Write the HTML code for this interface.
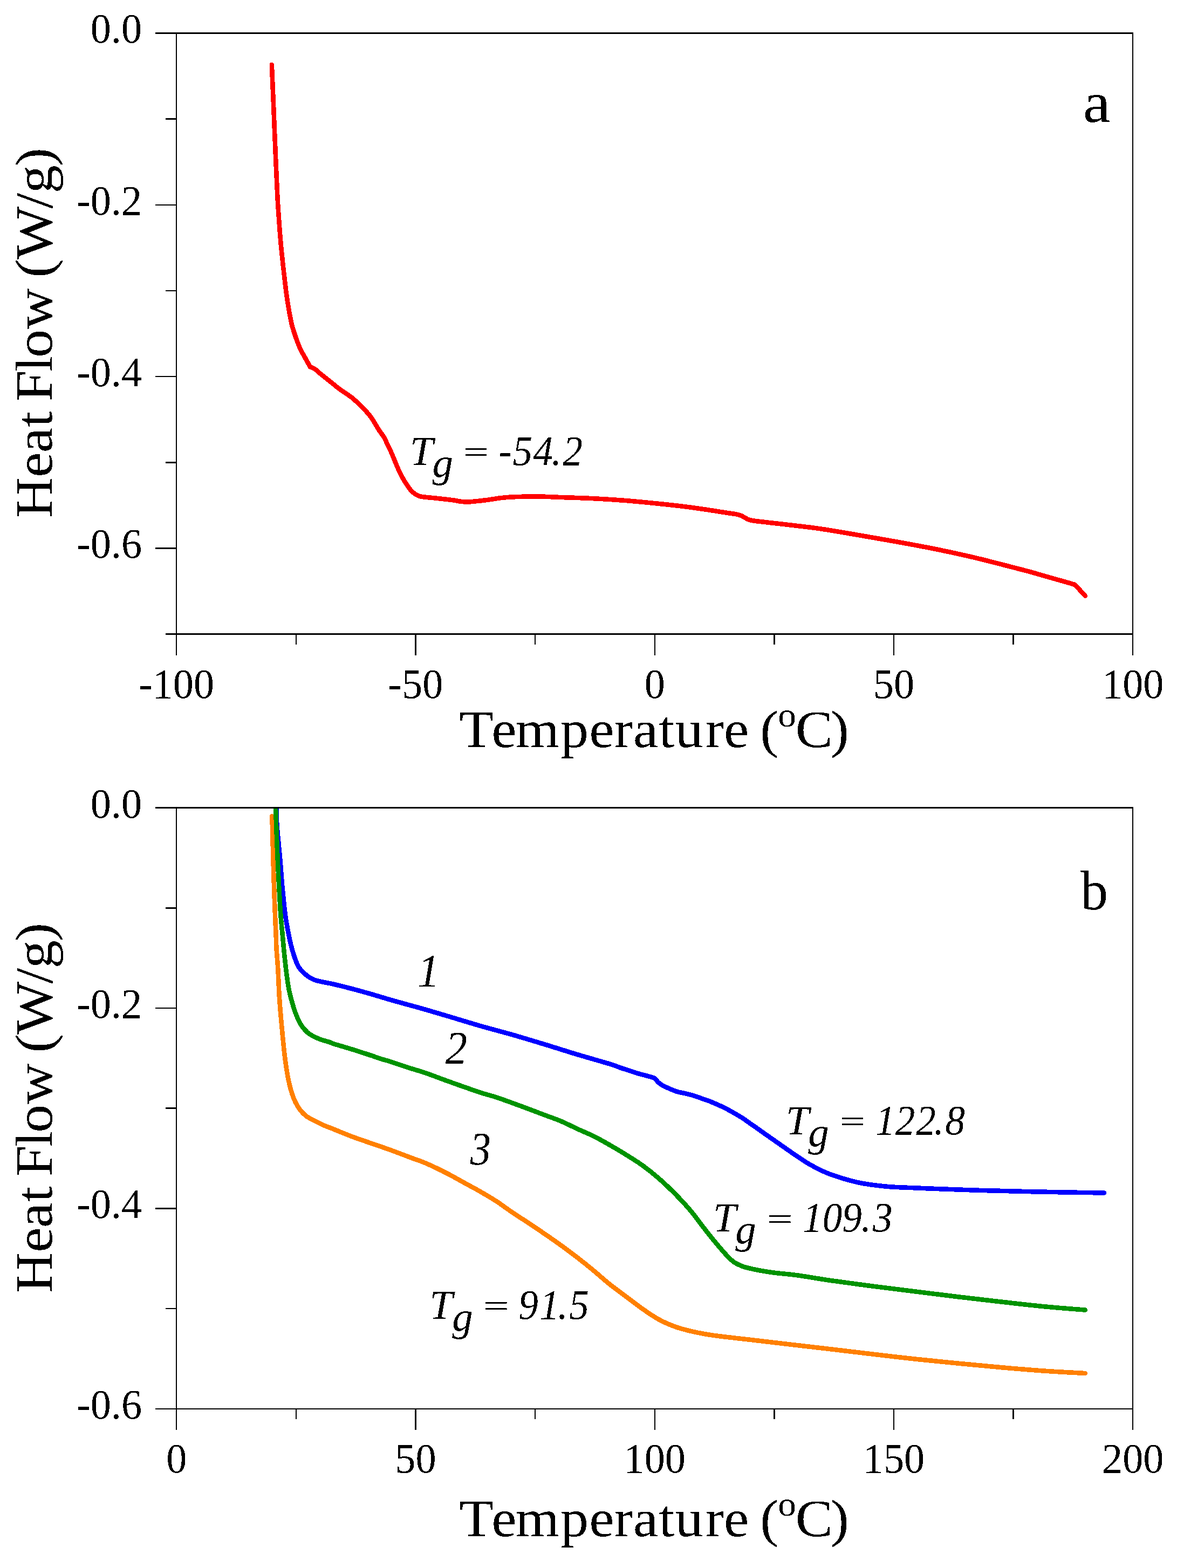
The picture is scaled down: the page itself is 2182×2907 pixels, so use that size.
<!DOCTYPE html>
<html lang="en">
<head>
<meta charset="utf-8">
<title>DSC heat flow curves</title>
<style>
html,body{margin:0;padding:0;background:#fff;}
body{width:2182px;height:2907px;overflow:hidden;}
svg{display:block;}
.ax rect{fill:#000;shape-rendering:crispEdges;}
.cv path{shape-rendering:crispEdges;fill:none;stroke-width:8.6;stroke-linecap:round;stroke-linejoin:round;}
text{fill:#000;font-kerning:none;white-space:pre;}
.tk{font-family:"Liberation Serif",serif;}
.an{font-family:"Liberation Serif",serif;font-style:italic;}
.ti{font-family:"Liberation Serif",serif;}
</style>
</head>
<body>
<svg width="2182" height="2907" viewBox="0 0 2182 2907">
<desc>Two DSC thermograms of heat flow (W/g) versus temperature (°C). Panel a: one curve from -80 to 90 °C with Tg = -54.2. Panel b: curves 1, 2 and 3 from 20 to 195 °C with Tg = 122.8, Tg = 109.3 and Tg = 91.5.</desc>
<defs><filter id="bw" x="0" y="0" width="2182" height="2907" filterUnits="userSpaceOnUse" color-interpolation-filters="sRGB"><feComponentTransfer><feFuncA type="discrete" tableValues="0 1"/></feComponentTransfer></filter>
<clipPath id="ca"><rect x="327.25" y="61.5" width="1773" height="1114.2"/></clipPath>
<clipPath id="cb"><rect x="327.25" y="1497.6" width="1773" height="1114.2"/></clipPath></defs>
<g class="cv" clip-path="url(#ca)"><path stroke="#ff0000" d="M503.8 120C504.2 128.3 505.2 151.7 506.0 170.0C506.8 188.3 507.7 210.0 508.5 230.0C509.3 250.0 510.2 270.8 511.0 290.0C511.8 309.2 512.8 330.0 513.5 345.0C514.2 360.0 514.1 362.1 515.3 380.0C516.5 397.9 518.5 428.2 520.7 452.3C522.9 476.4 526.4 506.6 528.5 524.7C530.6 542.8 531.3 548.2 533.3 560.8C535.3 573.3 538.4 590.5 540.5 600.0C542.6 609.5 544.1 612.5 545.9 618.1C547.7 623.7 549.4 628.7 551.3 633.7C553.2 638.7 555.1 643.6 557.3 648.2C559.5 652.8 562.4 657.4 564.6 661.4C566.8 665.4 568.9 669.2 570.6 672.3C572.3 675.4 574.1 678.8 574.8 680.1C576.3 680.8 581.0 682.4 583.9 684.3C586.8 686.2 588.9 688.8 592.3 691.6C595.7 694.4 600.3 698.0 604.3 701.2C608.3 704.4 612.4 707.6 616.4 710.8C620.4 714.0 624.4 717.5 628.4 720.5C632.4 723.5 636.5 726.1 640.5 728.9C644.5 731.7 648.5 734.1 652.5 737.3C656.5 740.5 660.6 744.4 664.6 748.2C668.6 752.0 672.6 755.8 676.6 760.2C680.6 764.6 685.1 769.7 688.7 774.7C692.3 779.7 695.7 786.2 698.3 790.4C700.9 794.6 702.0 796.5 704.3 800.0C706.6 803.5 710.0 807.1 712.3 811.1C714.6 815.1 716.3 820.1 718.3 824.3C720.3 828.5 722.3 832.0 724.3 836.4C726.3 840.8 728.4 846.0 730.4 850.8C732.4 855.6 734.4 860.7 736.4 865.3C738.4 869.9 740.4 874.6 742.4 878.6C744.4 882.6 746.4 886.0 748.4 889.4C750.4 892.8 752.5 896.0 754.5 899.0C756.5 902.0 758.5 905.1 760.5 907.5C762.5 909.9 764.5 911.8 766.5 913.5C768.5 915.2 770.5 916.6 772.5 917.7C774.5 918.8 776.6 919.5 778.6 920.1C780.6 920.7 779.6 920.7 784.6 921.3C789.6 921.9 799.5 922.7 808.7 923.7C817.9 924.7 832.6 926.3 840.0 927.3C847.4 928.3 847.9 929.1 852.8 929.6C857.7 930.1 861.6 930.8 869.6 930.4C877.6 930.0 891.8 928.3 901.0 927.2C910.2 926.1 917.0 924.6 925.0 923.6C933.0 922.6 937.2 921.9 949.2 921.4C961.2 920.9 982.2 920.4 997.3 920.5C1012.4 920.6 1022.9 921.4 1040.0 922.0C1057.2 922.6 1080.1 923.2 1100.2 924.2C1120.3 925.2 1140.4 926.5 1160.5 928.1C1180.6 929.7 1200.6 931.7 1220.7 933.8C1240.8 935.9 1260.9 938.0 1281.0 940.7C1301.1 943.4 1326.2 947.4 1341.2 949.8C1356.2 952.2 1363.3 952.5 1371.3 954.9C1379.3 957.2 1381.9 961.8 1389.4 963.9C1396.9 966.0 1404.5 966.3 1416.5 967.8C1428.5 969.3 1444.5 970.9 1461.7 973.0C1479.0 975.1 1498.2 977.0 1520.0 980.2C1541.8 983.4 1568.2 988.1 1592.3 992.2C1616.4 996.3 1640.5 1000.4 1664.6 1004.8C1688.7 1009.2 1712.7 1013.6 1736.8 1018.5C1760.9 1023.4 1781.9 1027.9 1809.1 1034.4C1836.3 1040.9 1880.3 1052.5 1900.0 1057.6C1919.7 1062.7 1918.1 1062.7 1927.1 1065.2C1936.1 1067.8 1945.2 1070.3 1954.2 1072.9C1963.2 1075.5 1974.8 1078.7 1981.3 1080.6C1987.8 1082.5 1991.1 1083.6 1993.1 1084.2C1996.2 1087.6 2008.7 1101.3 2011.8 1104.7"/></g>
<g class="cv" clip-path="url(#cb)">
<path stroke="#0000ff" d="M512 1490C512.0 1491.5 511.9 1491.6 512.2 1499.0C512.5 1506.4 512.7 1519.3 513.8 1534.2C514.9 1549.1 517.3 1570.4 518.9 1588.5C520.5 1606.6 521.6 1624.6 523.3 1642.7C525.0 1660.8 526.9 1681.2 529.0 1697.0C531.1 1712.8 534.1 1727.1 536.2 1737.6C538.3 1748.1 539.5 1753.0 541.5 1760.0C543.5 1767.0 545.8 1774.3 547.9 1779.9C550.0 1785.5 551.8 1789.7 554.2 1793.5C556.6 1797.3 559.4 1799.7 562.3 1802.5C565.2 1805.3 567.8 1808.2 571.4 1810.6C575.0 1813.0 579.5 1815.3 584.0 1817.0C588.5 1818.7 593.1 1819.4 598.5 1820.6C603.9 1821.8 607.6 1822.1 616.6 1824.2C625.6 1826.3 640.7 1830.0 652.7 1833.2C664.8 1836.4 676.8 1839.7 688.9 1843.2C701.0 1846.7 713.0 1850.5 725.1 1854.0C737.2 1857.5 750.4 1861.0 761.2 1864.0C772.1 1867.0 778.7 1868.8 790.2 1872.1C801.7 1875.4 813.5 1878.9 830.2 1883.9C846.9 1888.9 870.4 1896.2 890.5 1902.0C910.6 1907.8 930.6 1912.8 950.7 1918.6C970.8 1924.4 990.9 1930.5 1011.0 1936.6C1031.1 1942.7 1051.1 1949.3 1071.2 1955.3C1091.3 1961.3 1118.3 1968.8 1131.4 1972.8C1144.5 1976.8 1144.4 1977.6 1150.0 1979.5C1155.6 1981.4 1160.1 1982.8 1165.1 1984.4C1170.1 1986.1 1175.1 1987.9 1180.1 1989.4C1185.1 1990.9 1190.2 1992.1 1195.2 1993.5C1200.2 1994.9 1206.9 1996.6 1210.2 1997.7C1213.5 1998.8 1213.0 1998.7 1214.8 2000.2C1216.6 2001.8 1218.5 2005.0 1220.8 2007.0C1223.0 2009.0 1225.0 2010.5 1228.3 2012.3C1231.6 2014.1 1235.9 2016.0 1240.4 2018.0C1244.9 2020.0 1250.4 2022.5 1255.4 2024.0C1260.4 2025.5 1265.5 2026.1 1270.5 2027.3C1275.5 2028.5 1280.5 2029.6 1285.5 2031.1C1290.5 2032.6 1295.6 2034.6 1300.6 2036.4C1305.6 2038.2 1310.7 2039.8 1315.7 2041.7C1320.7 2043.7 1325.7 2045.8 1330.7 2048.1C1335.7 2050.3 1340.8 2052.6 1345.8 2055.2C1350.8 2057.8 1355.8 2060.6 1360.8 2063.5C1365.8 2066.4 1370.9 2069.2 1375.9 2072.5C1380.9 2075.8 1387.0 2080.3 1391.0 2083.1C1395.0 2085.9 1396.7 2086.8 1400.0 2089.1C1403.3 2091.4 1404.0 2092.2 1410.8 2097.0C1417.6 2101.8 1431.0 2111.1 1441.0 2118.1C1451.0 2125.1 1461.1 2132.4 1471.1 2139.2C1481.1 2146.0 1491.2 2153.0 1501.2 2158.8C1511.2 2164.6 1521.3 2169.6 1531.3 2173.9C1541.3 2178.2 1551.4 2181.3 1561.4 2184.4C1571.5 2187.5 1581.5 2190.3 1591.6 2192.5C1601.6 2194.7 1611.7 2196.0 1621.7 2197.3C1631.7 2198.6 1638.8 2199.5 1651.8 2200.4C1664.8 2201.3 1685.6 2201.9 1700.0 2202.5C1714.4 2203.1 1718.6 2203.4 1738.3 2204.1C1758.0 2204.8 1791.4 2206.1 1817.9 2206.9C1844.4 2207.7 1870.9 2208.3 1897.4 2208.9C1923.9 2209.5 1952.0 2210.1 1976.9 2210.5C2001.8 2210.9 2035.2 2211.3 2046.8 2211.5"/>
<path stroke="#ff8000" d="M503.9 1513.2C504.1 1516.7 504.6 1521.7 505.0 1534.2C505.4 1546.8 505.8 1570.4 506.3 1588.5C506.8 1606.6 507.4 1624.6 508.0 1642.7C508.6 1660.8 509.4 1681.2 510.0 1697.0C510.6 1712.8 511.4 1727.1 511.8 1737.6C512.2 1748.1 512.0 1750.2 512.6 1760.0C513.2 1769.8 514.4 1781.1 515.3 1796.2C516.2 1811.3 516.8 1832.3 518.0 1850.4C519.2 1868.5 520.8 1886.6 522.5 1904.7C524.2 1922.8 526.2 1943.8 528.0 1958.9C529.8 1974.0 531.4 1984.5 533.4 1995.1C535.4 2005.6 537.3 2014.1 539.7 2022.2C542.1 2030.3 545.0 2037.9 547.9 2043.9C550.8 2049.9 553.6 2054.2 556.9 2058.4C560.2 2062.6 563.9 2066.2 567.8 2069.2C571.7 2072.2 575.3 2073.8 580.4 2076.5C585.5 2079.2 592.5 2082.8 598.5 2085.5C604.5 2088.2 607.6 2089.1 616.6 2092.7C625.6 2096.3 640.7 2102.7 652.7 2107.2C664.8 2111.7 676.8 2115.7 688.9 2119.9C701.0 2124.1 713.0 2128.1 725.1 2132.5C737.2 2136.9 750.4 2142.0 761.2 2146.1C772.1 2150.2 778.7 2151.9 790.2 2156.9C801.7 2161.9 818.5 2170.1 830.2 2176.1C841.9 2182.1 850.4 2187.2 860.4 2192.7C870.4 2198.2 880.5 2203.4 890.5 2209.2C900.5 2215.0 910.6 2220.8 920.6 2227.3C930.6 2233.8 940.7 2241.6 950.7 2248.4C960.7 2255.2 970.9 2261.4 980.8 2268.0C990.7 2274.6 1000.2 2281.0 1010.1 2287.8C1020.0 2294.6 1030.2 2301.6 1040.2 2308.9C1050.2 2316.2 1060.4 2323.7 1070.4 2331.5C1080.5 2339.3 1090.5 2347.3 1100.5 2355.6C1110.5 2363.9 1120.6 2373.2 1130.6 2381.2C1140.6 2389.2 1150.7 2396.3 1160.7 2403.8C1170.7 2411.3 1180.8 2419.4 1190.8 2426.4C1200.8 2433.4 1211.0 2440.5 1221.0 2446.0C1231.0 2451.5 1241.1 2455.8 1251.1 2459.5C1261.1 2463.2 1271.2 2465.6 1281.2 2468.0C1291.2 2470.4 1301.3 2472.3 1311.3 2474.0C1321.3 2475.7 1326.3 2476.3 1341.4 2478.2C1356.5 2480.0 1381.9 2482.8 1401.7 2485.1C1421.5 2487.4 1437.0 2489.3 1460.0 2492.0C1483.0 2494.7 1513.0 2498.1 1539.5 2501.2C1566.0 2504.3 1592.5 2507.6 1619.0 2510.7C1645.5 2513.8 1672.1 2517.0 1698.6 2519.8C1725.1 2522.7 1751.6 2525.2 1778.1 2527.8C1804.6 2530.4 1831.1 2533.0 1857.6 2535.3C1884.1 2537.6 1911.4 2539.9 1937.1 2541.7C1962.8 2543.5 1999.3 2545.3 2011.8 2546.0"/>
<path stroke="#009300" d="M511 1490C511.0 1491.5 510.9 1491.6 511.1 1499.0C511.3 1506.4 511.7 1519.3 512.3 1534.2C512.9 1549.1 513.7 1570.4 514.5 1588.5C515.3 1606.6 516.2 1624.6 517.2 1642.7C518.2 1660.8 519.2 1681.2 520.4 1697.0C521.6 1712.8 523.2 1727.1 524.2 1737.6C525.2 1748.1 525.2 1750.2 526.2 1760.0C527.2 1769.8 528.6 1784.2 530.1 1796.2C531.6 1808.2 533.2 1821.5 535.2 1832.3C537.2 1843.1 540.0 1852.8 542.4 1861.3C544.8 1869.8 547.0 1876.4 549.7 1883.0C552.4 1889.6 555.4 1895.9 558.7 1901.0C562.0 1906.1 566.0 1910.4 569.6 1913.7C573.2 1917.0 576.2 1918.6 580.4 1920.9C584.6 1923.2 589.8 1925.4 594.9 1927.3C600.0 1929.2 607.0 1930.8 611.2 1932.2C615.4 1933.6 613.3 1933.5 620.2 1935.7C627.1 1937.9 641.2 1941.8 652.7 1945.4C664.2 1949.0 679.9 1954.1 688.9 1957.1C697.9 1960.1 701.0 1961.4 707.0 1963.3C713.0 1965.2 716.1 1965.7 725.1 1968.6C734.1 1971.5 750.4 1977.1 761.2 1980.6C772.1 1984.1 778.7 1985.7 790.2 1989.7C801.7 1993.7 813.5 1998.4 830.2 2004.4C846.9 2010.4 875.4 2020.5 890.5 2025.5C905.6 2030.5 908.6 2030.5 920.6 2034.5C932.6 2038.5 947.7 2044.1 962.8 2049.6C977.9 2055.1 998.0 2062.8 1011.0 2067.7C1024.0 2072.6 1031.1 2074.8 1041.1 2079.1C1051.1 2083.4 1061.2 2088.7 1071.2 2093.3C1081.2 2097.9 1091.3 2101.8 1101.3 2106.8C1111.3 2111.8 1121.4 2117.6 1131.4 2123.4C1141.5 2129.2 1151.5 2135.1 1161.6 2141.4C1171.6 2147.7 1181.7 2153.7 1191.7 2161.0C1201.7 2168.3 1211.8 2176.3 1221.8 2185.1C1231.8 2193.9 1242.0 2203.6 1251.9 2213.7C1261.8 2223.8 1271.3 2233.8 1281.2 2245.7C1291.1 2257.5 1301.3 2272.2 1311.3 2284.8C1321.3 2297.4 1333.4 2312.0 1341.4 2321.0C1349.4 2330.0 1353.5 2334.5 1359.5 2339.0C1365.5 2343.5 1370.6 2345.6 1377.6 2348.1C1384.6 2350.6 1392.7 2352.2 1401.7 2354.1C1410.7 2355.9 1418.8 2357.4 1431.8 2359.2C1444.8 2360.9 1462.0 2362.1 1480.0 2364.6C1498.0 2367.1 1516.3 2370.6 1539.5 2373.9C1562.7 2377.2 1592.5 2381.2 1619.0 2384.7C1645.5 2388.1 1672.1 2391.3 1698.6 2394.6C1725.1 2397.9 1751.6 2401.3 1778.1 2404.5C1804.6 2407.7 1831.1 2410.7 1857.6 2413.7C1884.1 2416.7 1911.4 2419.9 1937.1 2422.4C1962.8 2424.9 1999.3 2427.6 2011.8 2428.6"/>
</g>
<g class="ax">
<rect x="326" y="60" width="1775" height="3"/>
<rect x="326" y="1174" width="1775" height="3"/>
<rect x="326" y="60" width="2" height="1117"/>
<rect x="2099" y="60" width="2" height="1117"/>
<rect x="326" y="1174" width="2" height="41"/>
<rect x="548" y="1174" width="2" height="21"/>
<rect x="769" y="1174" width="3" height="41"/>
<rect x="991" y="1174" width="2" height="21"/>
<rect x="1213" y="1174" width="2" height="41"/>
<rect x="1434" y="1174" width="3" height="21"/>
<rect x="1656" y="1174" width="2" height="41"/>
<rect x="1877" y="1174" width="3" height="21"/>
<rect x="2099" y="1174" width="2" height="41"/>
<rect x="288" y="60" width="40" height="3"/>
<rect x="307" y="219" width="21" height="3"/>
<rect x="288" y="379" width="40" height="2"/>
<rect x="307" y="538" width="21" height="2"/>
<rect x="288" y="697" width="40" height="2"/>
<rect x="307" y="856" width="21" height="3"/>
<rect x="288" y="1015" width="40" height="3"/>
<rect x="307" y="1174" width="21" height="3"/>
</g>
<g class="ax">
<rect x="326" y="1496" width="1775" height="3"/>
<rect x="326" y="2611" width="1775" height="2"/>
<rect x="326" y="1496" width="2" height="1117"/>
<rect x="2099" y="1496" width="2" height="1117"/>
<rect x="326" y="2611" width="2" height="40"/>
<rect x="548" y="2611" width="2" height="20"/>
<rect x="769" y="2611" width="3" height="40"/>
<rect x="991" y="2611" width="2" height="20"/>
<rect x="1213" y="2611" width="2" height="40"/>
<rect x="1434" y="2611" width="3" height="20"/>
<rect x="1656" y="2611" width="2" height="40"/>
<rect x="1877" y="2611" width="3" height="20"/>
<rect x="2099" y="2611" width="2" height="40"/>
<rect x="288" y="1496" width="40" height="3"/>
<rect x="307" y="1682" width="21" height="3"/>
<rect x="288" y="1868" width="40" height="2"/>
<rect x="307" y="2053" width="21" height="3"/>
<rect x="288" y="2239" width="40" height="3"/>
<rect x="307" y="2425" width="21" height="2"/>
<rect x="288" y="2611" width="40" height="2"/>
</g>
<g class="tx" filter="url(#bw)">
<text class="tk" font-size="77.5" transform="translate(167.68 79.4) scale(0.985 1)" x="0 38.75 58.12" y="0">0.0</text>
<text class="tk" font-size="77.5" transform="translate(167.68 1515.5) scale(0.985 1)" x="0 38.75 58.12" y="0">0.0</text>
<text class="tk" font-size="77.5" transform="translate(142.26 397.74) scale(0.985 1)" x="0 25.81 64.56 83.93" y="0">-0.2</text>
<text class="tk" font-size="77.5" transform="translate(142.26 1886.9) scale(0.985 1)" x="0 25.81 64.56 83.93" y="0">-0.2</text>
<text class="tk" font-size="77.5" transform="translate(142.26 716.09) scale(0.985 1)" x="0 25.81 64.56 83.93" y="0">-0.4</text>
<text class="tk" font-size="77.5" transform="translate(142.26 2258.3) scale(0.985 1)" x="0 25.81 64.56 83.93" y="0">-0.4</text>
<text class="tk" font-size="77.5" transform="translate(142.26 1034.43) scale(0.985 1)" x="0 25.81 64.56 83.93" y="0">-0.6</text>
<text class="tk" font-size="77.5" transform="translate(142.26 2629.7) scale(0.985 1)" x="0 25.81 64.56 83.93" y="0">-0.6</text>
<text class="tk" font-size="77.5" transform="translate(257.29 1294.4) scale(0.985 1)" x="0 25.81 64.56 103.31" y="0">-100</text>
<text class="tk" font-size="77.5" transform="translate(719.62 1294.4) scale(0.985 1)" x="0 25.81 64.56" y="0">-50</text>
<text class="tk" font-size="77.5" transform="translate(1194.67 1294.4) scale(0.985 1)" x="0" y="0">0</text>
<text class="tk" font-size="77.5" transform="translate(1618.83 1294.4) scale(0.985 1)" x="0 38.75" y="0">50</text>
<text class="tk" font-size="77.5" transform="translate(2043 1294.4) scale(0.985 1)" x="0 38.75 77.5" y="0">100</text>
<text class="tk" font-size="77.5" transform="translate(308.17 2730) scale(0.985 1)" x="0" y="0">0</text>
<text class="tk" font-size="77.5" transform="translate(732.33 2730) scale(0.985 1)" x="0 38.75" y="0">50</text>
<text class="tk" font-size="77.5" transform="translate(1156.5 2730) scale(0.985 1)" x="0 38.75 77.5" y="0">100</text>
<text class="tk" font-size="77.5" transform="translate(1599.75 2730) scale(0.985 1)" x="0 38.75 77.5" y="0">150</text>
<text class="tk" font-size="77.5" transform="translate(2043 2730) scale(0.985 1)" x="0 38.75 77.5" y="0">200</text>
<text class="ti" font-size="97.5" transform="translate(0 1385.2) scale(1.07 1)" x="795.85 851.65 893.17 971.14 1020.72 1064.06 1096.94 1141.31 1169.74 1222.05 1254.32 1297.59 1316.89 1347.85 1377.94 1438.5" y="0 0 0 0 0 0 0 0 0 0 0 0 0 -37.8 0 0">Temperature (<tspan font-size="63">o</tspan>C)</text>
<text class="ti" font-size="97.5" transform="translate(0 2847.8) scale(1.07 1)" x="795.85 851.65 893.17 971.14 1020.72 1064.06 1096.94 1141.31 1169.74 1222.05 1254.32 1297.59 1316.89 1347.85 1377.94 1438.5" y="0 0 0 0 0 0 0 0 0 0 0 0 0 -37.8 0 0">Temperature (<tspan font-size="63">o</tspan>C)</text>
<text class="ti" font-size="97.5" transform="translate(96.1 959) rotate(-90) scale(1.07 1)" x="-1.07 69.32 111.89 156.31 183.4 200.58 251.92 276.65 326.32 396.73 414.97 446.93 534.63 561.33 607.94" y="0">Heat Flow (W/g)</text>
<text class="ti" font-size="97.5" transform="translate(96.1 2395.9) rotate(-90) scale(1.07 1)" x="-1.07 69.32 111.89 156.31 183.4 200.58 251.92 276.65 326.32 396.73 414.97 446.93 534.63 561.33 607.94" y="0">Heat Flow (W/g)</text>
<text class="ti" font-size="104.8008" transform="translate(2007.77 226.08) scale(1.0942 1)" x="0" y="0">a</text>
<text class="ti" font-size="104.0344" transform="translate(2002.7 1686.08) scale(0.9885 1)" x="0" y="0">b</text>
<g class="an">
<text class="sy" font-size="77" transform="translate(0 861.7) scale(1 1)" x="760.04 801.41" y="0 22">Tg</text>
<text class="eq" font-size="58" transform="translate(853.17 856.91) scale(1.4598 1)" x="0" y="0">=</text>
<text class="nu" font-size="79" transform="translate(0 861.7) scale(0.926 1)" x="998.79 1026.38 1067.6 1104.26 1126.89" y="0">-54.2</text>
</g>
<g class="an">
<text class="sy" font-size="77" transform="translate(0 2103.2) scale(1 1)" x="1457.09 1498.31" y="0 22">Tg</text>
<text class="eq" font-size="58" transform="translate(1551.07 2098.41) scale(1.4598 1)" x="0" y="0">=</text>
<text class="nu" font-size="79" transform="translate(0 2103.2) scale(0.926 1)" x="1752.69 1792.33 1833.85 1870.08 1892.39" y="0">122.8</text>
</g>
<g class="an">
<text class="sy" font-size="77" transform="translate(0 2283.3) scale(1 1)" x="1321.94 1363.21" y="0 22">Tg</text>
<text class="eq" font-size="58" transform="translate(1415.7 2278.51) scale(1.4858 1)" x="0" y="0">=</text>
<text class="nu" font-size="79" transform="translate(0 2283.3) scale(0.926 1)" x="1606.79 1646.67 1686.1 1724.02 1747.23" y="0">109.3</text>
</g>
<g class="an">
<text class="sy" font-size="77" transform="translate(0 2444.9) scale(1 1)" x="796.19 838.31" y="0 22">Tg</text>
<text class="eq" font-size="58" transform="translate(890.07 2440.11) scale(1.4747 1)" x="0" y="0">=</text>
<text class="nu" font-size="79" transform="translate(0 2444.9) scale(0.926 1)" x="1038.15 1080.44 1116.95 1139.61" y="0">91.5</text>
</g>
<text class="an" font-size="86.7976" transform="translate(773.77 1829.2) scale(0.9457 1)" x="0" y="0">1</text>
<text class="an" font-size="86.5416" transform="translate(825.86 1972.2) scale(0.934 1)" x="0" y="0">2</text>
<text class="an" font-size="86.6233" transform="translate(871.71 2159.25) scale(0.8804 1)" x="0" y="0">3</text>
</g>
</svg>
</body>
</html>
